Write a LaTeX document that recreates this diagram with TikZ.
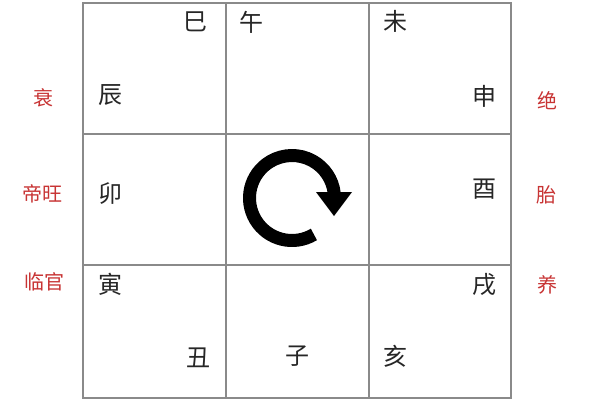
\documentclass[tikz,border=0pt]{standalone}
\usepackage{fontspec}
\newfontfamily\cjk{Noto Sans CJK SC}
\definecolor{gridgray}{RGB}{138,138,138}
\definecolor{redtxt}{RGB}{200,52,52}
\tikzset{
  gridline/.style={draw=gridgray, line width=1.3pt},
  branch/.style={inner sep=0pt, font=\cjk\fontsize{24}{24}\selectfont, text=black!85},
  stage/.style={inner sep=0pt, font=\cjk\fontsize{20}{20}\selectfont, text=redtxt},
}
\begin{document}
\begin{tikzpicture}[x=1pt,y=-1pt]
\useasboundingbox (0,0) rectangle (600,400);
\fill[white] (0,0) rectangle (600,400);
% grid
\coordinate (tl) at (83,3);
\coordinate (br) at (511,398);
\draw[gridline] (tl) rectangle (br);
\draw[gridline] (226,3) -- (226,398);
\draw[gridline] (369,3) -- (369,398);
\draw[gridline] (83,134) -- (511,134);
\draw[gridline] (83,265) -- (511,265);
% branches
\node[branch] (si) at (195,22) {巳};
\node[branch] (wu) at (251,22) {午};
\node[branch] (wei) at (395,21) {未};
\node[branch] (chen) at (110,95) {辰};
\node[branch] (shen) at (484,96) {申};
\node[branch] (mao) at (110,194) {卯};
\node[branch] (you) at (484,189) {酉};
\node[branch] (yin) at (110,284) {寅};
\node[branch] (xu) at (484,285) {戌};
\node[branch] (chou) at (198,358) {丑};
\node[branch] (zi) at (297,356) {子};
\node[branch] (hai) at (395,356) {亥};
% stages
\node[stage] (shuai) at (43,98) {衰};
\node[stage] (diwang) at (42,194) {帝旺};
\node[stage] (linguan) at (44,282) {临官};
\node[stage] (jue) at (547,101) {绝};
\node[stage] (tai) at (546,195) {胎};
\node[stage] (yang) at (547,285) {养};
% rotation arrow
\coordinate (c) at (292,198);
\draw[line width=13pt, black] (c) ++(59:42.5) arc[start angle=59, end angle=353, radius=42.5];
\fill[black] (316,192) -- (352,192) -- (334,216) -- cycle;
\end{tikzpicture}
\end{document}
